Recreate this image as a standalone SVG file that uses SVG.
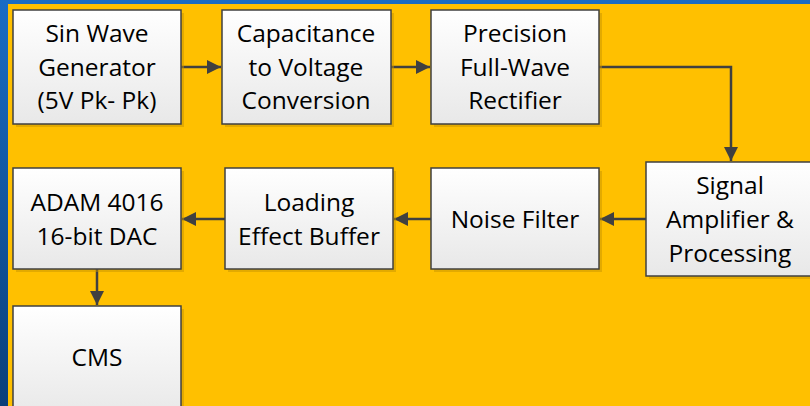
<svg xmlns="http://www.w3.org/2000/svg" width="810" height="406" viewBox="0 0 810 406">
<defs>
<linearGradient id="bg" x1="0" y1="0" x2="0" y2="1">
<stop offset="0" stop-color="#1a6cc4"/>
<stop offset="1" stop-color="#0a3f7a"/>
</linearGradient>
<linearGradient id="box" x1="0" y1="0" x2="0" y2="1">
<stop offset="0" stop-color="#ffffff"/>
<stop offset="1" stop-color="#e8e8e8"/>
</linearGradient>
<marker id="arrL" viewBox="0 0 14 14" refX="14" refY="7" markerWidth="14" markerHeight="14" markerUnits="userSpaceOnUse" orient="auto">
<path d="M0,0 L14,7 L0,14 z" fill="#404040"/>
</marker>
</defs>
<style>
.sh{fill:#c89400;opacity:0.5}
.bx{fill:url(#box);stroke:#404040;stroke-width:1.5}
.t{font-family:"Open Sans","Liberation Sans",sans-serif;font-size:24.5px;fill:#000;text-anchor:middle}
.c{fill:none;stroke:#404040;stroke-width:2.5}
</style>
<rect x="0" y="0" width="810" height="406" fill="url(#bg)"/>
<rect x="8" y="4" width="802" height="402" fill="#ffc000"/>

<g id="connectors">
<path class="c" d="M181,67 H221" marker-end="url(#arrL)"/>
<path class="c" d="M391,67 H430" marker-end="url(#arrL)"/>
<path class="c" d="M599,67 H731 V161" marker-end="url(#arrL)"/>
<path class="c" d="M646,219 H600" marker-end="url(#arrL)"/>
<path class="c" d="M431,219 H394" marker-end="url(#arrL)"/>
<path class="c" d="M225,219 H182" marker-end="url(#arrL)"/>
<path class="c" d="M97,269 V305" marker-end="url(#arrL)"/>
</g>

<g id="sinwave">
<rect class="sh" x="16" y="13" width="168" height="114"/>
<rect class="bx" x="13" y="10" width="168" height="114"/>
<text class="t" x="97" y="42">Sin Wave</text>
<text class="t" x="97" y="76">Generator</text>
<text class="t" x="97" y="109">(5V Pk- Pk)</text>
</g>

<g id="capacitance">
<rect class="sh" x="225" y="13" width="169" height="114"/>
<rect class="bx" x="222" y="10" width="169" height="114"/>
<text class="t" x="306" y="42">Capacitance</text>
<text class="t" x="306" y="76">to Voltage</text>
<text class="t" x="306" y="109">Conversion</text>
</g>

<g id="rectifier">
<rect class="sh" x="434" y="13" width="168" height="114"/>
<rect class="bx" x="431" y="10" width="168" height="114"/>
<text class="t" x="515" y="42">Precision</text>
<text class="t" x="515" y="76">Full-Wave</text>
<text class="t" x="515" y="109">Rectifier</text>
</g>

<g id="amplifier">
<rect class="sh" x="649" y="165" width="168" height="114"/>
<rect class="bx" x="646" y="162" width="168" height="114"/>
<text class="t" x="730" y="194">Signal</text>
<text class="t" x="730" y="228">Amplifier &amp;</text>
<text class="t" x="730" y="262">Processing</text>
</g>

<g id="noisefilter">
<rect class="sh" x="434" y="171" width="168" height="101"/>
<rect class="bx" x="431" y="168" width="168" height="101"/>
<text class="t" x="515" y="228">Noise Filter</text>
</g>

<g id="buffer">
<rect class="sh" x="228" y="171" width="168" height="101"/>
<rect class="bx" x="225" y="168" width="168" height="101"/>
<text class="t" x="309" y="211">Loading</text>
<text class="t" x="309" y="245">Effect Buffer</text>
</g>

<g id="adam">
<rect class="sh" x="16" y="171" width="168" height="101"/>
<rect class="bx" x="13" y="168" width="168" height="101"/>
<text class="t" x="97" y="211">ADAM 4016</text>
<text class="t" x="97" y="245">16-bit DAC</text>
</g>

<g id="cms">
<rect class="sh" x="16" y="309" width="168" height="110"/>
<rect class="bx" x="13" y="306" width="168" height="110"/>
<text class="t" x="97" y="366">CMS</text>
</g>
</svg>
